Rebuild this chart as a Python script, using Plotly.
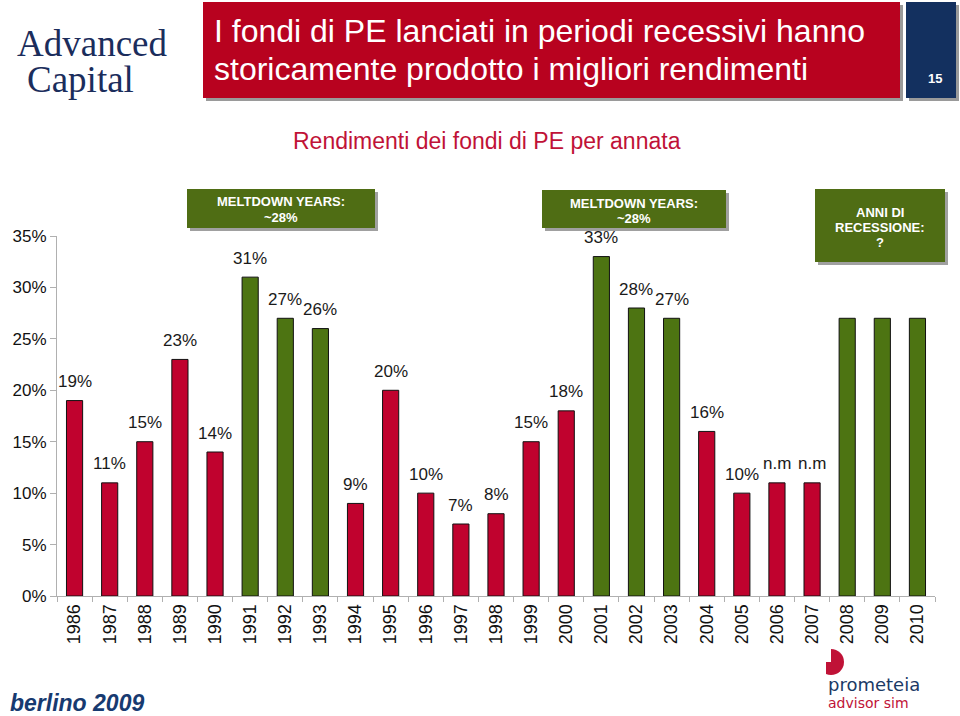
import plotly.graph_objects as go

# ---------------- data ----------------
years = [str(y) for y in range(1986, 2011)]
returns = [19, 11, 15, 23, 14, 31, 27, 26, 9, 20, 10, 7, 8, 15, 18, 33, 28, 27, 16, 10, 11, 11, 27, 27, 27]
labels = ["19%", "11%", "15%", "23%", "14%", "31%", "27%", "26%", "9%", "20%", "10%", "7%", "8%",
          "15%", "18%", "33%", "28%", "27%", "16%", "10%", "n.m", "n.m", "", "", ""]
recession_years = ["1991", "1992", "1993", "2001", "2002", "2003", "2008", "2009", "2010"]
y_ticks = [0, 5, 10, 15, 20, 25, 30, 35]
y_tick_text = [f"{v}%" for v in y_ticks]

RED = "#c0022e"
GREEN = "#4d7412"
BOX_GREEN = "#4f6d14"
NAVY = "#1b2d5c"
CRIMSON = "#c01237"
FONT = "Liberation Sans, Arial, sans-serif"

colors = [GREEN if y in recession_years else RED for y in years]

# ---------------- layout geometry ----------------
L, R, T, B = 57, 25, 236, 120
W, H = 960, 716
PW, PH = W - L - R, H - T - B


def px(x):
    return (x - L) / PW


def py(y):
    return (H - B - y) / PH


fig = go.Figure()
fig.add_trace(go.Bar(
    x=years, y=returns,
    marker=dict(color=colors, line=dict(color="#111111", width=1)),
    width=0.46,
    hoverinfo="x+y",
))

annotations = []
for i, (v, lab) in enumerate(zip(returns, labels)):
    if lab:
        annotations.append(dict(
            x=i, y=v, xref="x", yref="y", text=lab, showarrow=False,
            yanchor="middle", yshift=19,
            font=dict(family=FONT, size=17, color="#1a1a1a"),
        ))

shapes = []


def rect(x0, y0, x1, y1, color):
    shapes.append(dict(type="rect", xref="paper", yref="paper",
                       x0=px(x0), x1=px(x1), y0=py(y1), y1=py(y0),
                       fillcolor=color, line=dict(width=0), layer="above"))


def text(x, y, s, size, color, bold=False, family=FONT,
         xanchor="center", yanchor="middle", italic=False):
    t = f"<b>{s}</b>" if bold else s
    if italic:
        t = f"<i>{t}</i>"
    annotations.append(dict(x=px(x), y=py(y), xref="paper", yref="paper", text=t,
                            showarrow=False, xanchor=xanchor, yanchor=yanchor,
                            font=dict(family=family, size=size, color=color)))


# Title banner
rect(206, 5, 903, 101, "#9a9a9a")
rect(203, 2, 900, 98, "#b8021f")
rect(909, 5, 959, 101, "#9a9a9a")
rect(906, 2, 956, 98, "#13305f")
text(212, 31, "I fondi di PE lanciati in periodi recessivi hanno", 32, "white", xanchor="left")
text(212, 69, "storicamente prodotto i migliori rendimenti", 32, "white", xanchor="left")
text(935, 78, "15", 13, "white", bold=True)

# Subtitle
text(487, 141, "Rendimenti dei fondi di PE per annata", 23, CRIMSON)

# Green call-out boxes
for (x0, y0, x1, y1) in [(187, 189, 375, 228), (542, 190, 726, 228), (815, 189, 945, 262)]:
    rect(x0 + 3, y0 + 3, x1 + 3, y1 + 3, "#a0a0a0")
    rect(x0, y0, x1, y1, BOX_GREEN)
text(281, 202, "MELTDOWN YEARS:", 13, "white", bold=True)
text(281, 217, "~28%", 13, "white", bold=True)
text(634, 203, "MELTDOWN YEARS:", 13, "white", bold=True)
text(634, 218, "~28%", 13, "white", bold=True)
text(880, 212, "ANNI DI", 13, "white", bold=True)
text(880, 227, "RECESSIONE:", 13, "white", bold=True)
text(880, 242, "?", 13, "white", bold=True)

# Logos
text(92, 44, "Advanced", 37, NAVY, family="Liberation Serif, DejaVu Serif, serif")
text(80, 79, "Capital", 37, NAVY, family="Liberation Serif, DejaVu Serif, serif")
text(8, 703, "berlino 2009", 23, "#173a70", bold=True, italic=True, xanchor="left")
text(826, 684, "prometeia", 18, "#1b3a66", family="DejaVu Sans, sans-serif", xanchor="left")
text(826, 703, "advisor sim", 14, CRIMSON, family="DejaVu Sans, sans-serif", xanchor="left")
shapes.append(dict(type="circle", xref="paper", yref="paper",
                   x0=px(818), x1=px(844), y0=py(675), y1=py(649),
                   fillcolor=CRIMSON, line=dict(width=0), layer="above"))
shapes.append(dict(type="path", xref="paper", yref="paper",
                   path=(f"M {px(812)},{py(646)} L {px(831)},{py(646)} L {px(831)},{py(662)} "
                         f"L {px(826)},{py(662)} L {px(826)},{py(678)} L {px(812)},{py(678)} Z"),
                   fillcolor="white", line=dict(width=0), layer="above"))

fig.update_layout(
    width=W, height=H,
    margin=dict(l=L, r=R, t=T, b=B),
    paper_bgcolor="white", plot_bgcolor="white",
    showlegend=False,
    font=dict(family=FONT, size=16, color="#1a1a1a"),
    xaxis=dict(
        type="category", tickangle=-90, tickson="boundaries",
        ticks="outside", ticklen=5, tickcolor="#b0b0b0",
        showline=True, linecolor="#b0b0b0", linewidth=1,
        showgrid=False, zeroline=False,
        tickfont=dict(size=18, color="#111111"),
        range=[-0.5, 24.5], fixedrange=True,
    ),
    yaxis=dict(
        range=[0, 35], tickvals=y_ticks, ticktext=y_tick_text,
        ticks="outside", ticklen=6, tickcolor="#b0b0b0",
        showline=True, linecolor="#b0b0b0", linewidth=1,
        showgrid=False, zeroline=False,
        tickfont=dict(size=17, color="#111111"),
        fixedrange=True,
    ),
    annotations=annotations,
    shapes=shapes,
)

fig.write_html("out.html")
